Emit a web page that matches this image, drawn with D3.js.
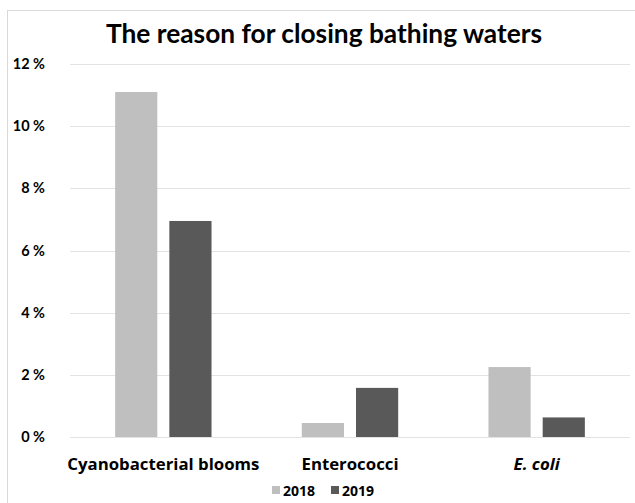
<!DOCTYPE html>
<html>
<head>
<meta charset="utf-8">
<script src="https://cdn.jsdelivr.net/npm/d3@7"></script>
<style>
  html, body { margin: 0; padding: 0; background: #fff; }
  svg { display: block; }
  text { font-family: Lato, "Open Sans", sans-serif; font-weight: bold; fill: #000; }
</style>
</head>
<body>
<svg id="chart" width="635" height="503"></svg>
<script>
// Share of bathing-water closures by reason, per season
const categories = ["Cyanobacterial blooms", "Enterococci", "E. coli"];
const years = ["2018", "2019"];
const values2018 = [11.1, 0.45, 2.25];
const values2019 = [6.95, 1.58, 0.63];
const yTicks = [0, 2, 4, 6, 8, 10, 12];
const colors = ["#bfbfbf", "#595959"];

const svg = d3.select("#chart");
const margin = { top: 64, right: 5, bottom: 66, left: 70 };
const width = 635, height = 503;

// chart-area frame
svg.append("rect")
  .attr("x", 7.5).attr("y", 10.5)
  .attr("width", 640).attr("height", 510)
  .attr("fill", "none").attr("stroke", "#d9d9d9");

const x0 = d3.scaleBand()
  .domain(categories)
  .range([margin.left, width - margin.right])
  .paddingInner(0).paddingOuter(0);

const x1 = d3.scaleBand()
  .domain(years)
  .range([0, x0.bandwidth()])
  .paddingInner(0.222).paddingOuter(0.833);

const y = d3.scaleLinear()
  .domain([0, 12])
  .range([height - margin.bottom, margin.top]);

// title
svg.append("text")
  .attr("x", 324).attr("y", 43)
  .attr("text-anchor", "middle")
  .style("font-size", "26.3px")
  .text("The reason for closing bathing waters");

// gridlines
svg.append("g")
  .selectAll("line")
  .data(yTicks)
  .join("line")
  .attr("x1", margin.left).attr("x2", width - margin.right)
  .attr("y1", d => Math.round(y(d)) + 0.5).attr("y2", d => Math.round(y(d)) + 0.5)
  .attr("stroke", "#e3e3e3").attr("stroke-width", 1);

// y axis labels
const yAxis = d3.axisLeft(y)
  .tickValues(yTicks)
  .tickSize(0)
  .tickPadding(0)
  .tickFormat(d => d + " %");
const gy = svg.append("g")
  .attr("transform", "translate(45,0)")
  .call(yAxis);
gy.select(".domain").remove();
gy.selectAll("text")
  .style("font-size", "14.5px")
  .style("font-family", "Lato, sans-serif")
  .style("font-weight", "bold")
  .attr("fill", "#000");

// bars
const rows = categories.map((c, i) => ({ cat: c, vals: [values2018[i], values2019[i]] }));
svg.append("g")
  .selectAll("g")
  .data(rows)
  .join("g")
  .attr("transform", d => `translate(${x0(d.cat)},0)`)
  .selectAll("rect")
  .data(d => d.vals.map((v, j) => ({ year: years[j], v, j })))
  .join("rect")
  .attr("x", d => x1(d.year))
  .attr("width", x1.bandwidth())
  .attr("y", d => y(d.v))
  .attr("height", d => y(0) - y(d.v))
  .attr("fill", d => colors[d.j]);

// category labels
const xAxis = d3.axisBottom(x0).tickSize(0).tickPadding(0);
const gx = svg.append("g")
  .attr("transform", `translate(0,${y(0) + 21})`)
  .call(xAxis);
gx.select(".domain").remove();
gx.selectAll("text")
  .style("font-size", "16.8px")
  .style("font-family", "'Open Sans', sans-serif")
  .style("font-weight", "bold")
  .style("font-style", d => d === "E. coli" ? "italic" : "normal")
  .attr("fill", "#000");

// legend
const legendX = [272, 331];
const legend = svg.append("g");
years.forEach((yr, i) => {
  legend.append("rect")
    .attr("x", legendX[i]).attr("y", 486)
    .attr("width", 8).attr("height", 8)
    .attr("fill", colors[i]);
  legend.append("text")
    .attr("x", legendX[i] + 11).attr("y", 495.5)
    .style("font-size", "14px")
    .style("font-family", "'Open Sans', sans-serif")
    .text(yr);
});
</script>
</body>
</html>
